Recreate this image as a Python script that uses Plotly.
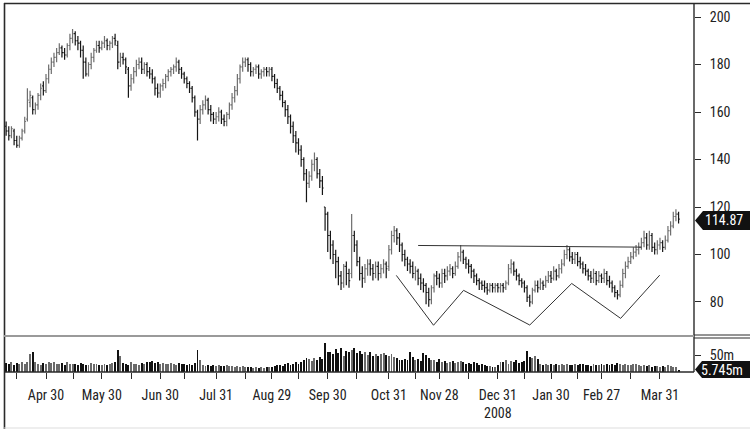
import plotly.graph_objects as go

# ---------------- data ----------------
opens = [
    154,152,150,152,148,146,149,152,157,164,
    166,161,163,167,171,169,174,178,181,183,
    185,187,185,184,188,191,193,190,189,186,
    181,176,180,183,186,188,187,189,190,188,
    189,191,188,181,183,182,178,171,174,177,
    180,181,178,180,177,176,174,170,168,171,
    172,175,177,178,179,181,178,176,174,172,
    170,166,160,157,161,163,165,161,159,157,
    158,160,157,156,159,163,166,169,174,179,
    181,182,180,177,178,179,176,177,178,177,
    178,175,172,170,167,164,161,158,154,150,
    147,144,140,134,130,133,138,140,134,131,
    120,117,108,104,100,97,91,88,95,92,
    92,108,104,97,92,90,94,96,94,92,
    95,92,94,96,95,102,108,110,107,104,
    100,98,96,95,92,93,90,88,87,84,
    81,86,91,90,88,92,91,93,94,92,
    95,99,101,98,96,95,93,91,89,88,
    87,86,85,87,86,87,86,87,86,88,
    94,96,93,91,89,88,86,82,80,85,
    87,86,88,87,89,91,90,93,91,94,
    96,100,102,99,98,100,97,96,94,93,
    91,90,92,89,91,90,92,89,88,86,
    84,83,87,92,95,97,99,101,102,103,
    105,107,104,108,103,102,104,105,103,106,
    110,112,116,117,
]
highs = [
    156,154,154,153,150,150,153,158,170,169,
    167,164,168,172,173,176,180,183,185,187,
    189,188,187,189,193,195,194,192,190,188,
    183,181,185,187,190,190,190,192,191,190,
    192,193,190,185,185,183,179,176,179,182,
    183,183,181,181,179,178,175,172,172,174,
    176,178,179,180,183,182,179,177,175,173,
    171,167,161,163,165,167,166,163,160,160,
    162,161,159,160,164,168,171,176,180,183,
    183,183,181,179,180,180,178,179,179,179,
    179,176,174,171,169,165,163,159,156,152,
    149,146,141,136,135,140,143,141,136,133,
    120,118,110,106,102,99,93,96,97,94,
    117,110,106,99,95,96,98,98,96,97,
    97,96,98,97,104,110,112,111,109,105,
    102,99,98,97,95,94,92,90,88,86,
    87,92,93,92,94,94,95,96,95,97,
    101,104,102,99,98,96,94,92,90,89,
    89,88,88,88,88,88,88,88,89,96,
    98,97,94,92,90,89,87,83,86,89,
    89,90,89,91,93,93,95,94,96,98,
    102,104,103,101,101,101,99,97,96,94,
    93,94,93,93,92,94,93,91,89,87,
    85,89,94,97,99,101,103,104,105,107,
    110,109,110,109,105,106,107,106,108,112,
    114,118,119,118,
]
lows = [
    150,148,149,146,145,145,148,151,156,162,
    159,159,161,165,167,168,172,176,179,181,
    184,183,182,183,186,189,188,186,183,174,
    175,175,178,181,185,185,186,187,186,186,
    187,188,178,179,180,176,166,169,172,175,
    178,176,176,175,174,172,167,166,166,169,
    170,173,175,176,177,176,174,172,170,168,
    164,158,148,155,159,161,159,156,155,155,
    156,155,154,154,157,161,164,167,172,177,
    179,177,175,175,176,174,174,175,175,175,
    173,170,168,165,162,158,155,151,147,143,
    142,137,131,122,128,131,135,132,128,125,
    110,101,98,96,90,87,85,86,87,86,
    90,101,95,89,86,88,91,91,89,90,
    89,90,92,90,93,100,105,104,101,97,
    95,93,92,90,89,87,85,84,79,78,
    79,84,87,86,86,88,89,91,90,91,
    94,97,96,94,92,90,88,87,85,85,
    84,83,84,84,84,84,84,84,85,87,
    92,91,89,87,86,84,80,78,79,84,
    84,85,85,86,88,88,89,89,90,92,
    95,98,97,96,96,95,94,92,91,89,
    88,88,87,88,88,88,87,86,84,82,
    81,82,86,90,94,96,98,99,100,102,
    103,102,102,101,100,100,102,101,102,105,
    108,111,114,113,
]
closes = [
    152,150,153,148,146,149,152,156,165,167,
    161,163,167,170,169,174,178,181,183,185,
    187,185,184,188,191,193,190,189,186,181,
    176,180,183,186,188,187,189,190,188,189,
    191,190,181,183,182,179,171,174,177,180,
    181,178,180,177,176,174,170,168,171,172,
    175,177,178,179,181,178,176,174,172,170,
    166,160,157,161,163,165,161,159,157,158,
    160,157,156,159,163,166,169,174,179,181,
    182,180,177,178,179,176,177,178,177,178,
    175,172,170,167,164,161,158,154,150,147,
    144,140,134,130,133,138,140,134,131,128,
    117,108,104,100,97,91,88,95,92,89,
    108,104,97,92,90,94,96,94,92,95,
    92,94,96,94,102,108,110,107,104,100,
    98,96,95,92,93,90,88,87,84,81,
    86,91,90,88,92,91,93,94,92,95,
    99,101,98,96,95,93,91,89,88,87,
    86,85,87,86,87,86,87,86,88,94,
    96,93,91,89,88,86,82,80,85,87,
    86,88,87,89,91,90,93,91,94,96,
    100,102,99,98,100,97,96,94,93,91,
    90,92,89,91,90,92,89,88,86,84,
    83,87,92,95,97,99,101,102,103,105,
    107,104,108,103,102,104,105,103,106,110,
    112,116,117,114.87,
]
volumes_m = [
    27,24,28,22,26,25,30,24,28,52,
    58,30,25,22,27,24,30,26,28,25,
    24,26,22,28,24,23,25,21,27,24,
    20,22,26,23,25,21,22,24,20,23,
    26,30,64,48,27,24,22,28,25,23,
    21,26,24,30,28,32,26,29,24,27,
    25,23,26,24,22,26,23,25,21,24,
    22,27,64,35,22,19,21,18,20,17,
    22,19,18,20,17,19,16,18,15,17,
    14,16,15,13,15,12,14,13,15,14,
    16,18,20,22,19,24,26,21,25,28,
    24,30,35,42,38,33,40,36,44,38,
    85,58,60,52,68,55,72,48,62,58,
    66,70,55,63,52,60,50,58,46,54,
    48,52,56,50,48,52,45,40,36,34,
    38,34,60,45,36,38,32,55,50,40,
    35,34,30,38,28,32,27,30,33,26,
    29,31,28,25,27,24,28,26,22,25,
    20,18,17,16,15,22,30,28,34,25,
    32,29,35,27,30,33,62,45,40,48,
    38,25,22,24,20,23,21,25,22,24,
    20,23,21,22,24,20,23,25,21,22,
    19,24,22,20,23,21,25,22,24,20,
    26,23,21,24,22,20,23,25,21,19,
    22,18,20,16,19,17,15,18,16,20,
    17,15,14,5.745,
]
n = len(closes)
assert len(opens) == n and len(highs) == n and len(lows) == n and len(volumes_m) == n, (
    len(opens), len(highs), len(lows), len(closes), len(volumes_m))
day_index = list(range(n))

# trading-day index of labelled dates and of the intermediate ticks
label_ticks = [15, 36, 58, 79, 100, 121, 144, 163, 185, 205, 224, 246]
label_texts = ["Apr 30", "May 30", "Jun 30", "Jul 31", "Aug 29", "Sep 30",
               "Oct 31", "Nov 28", "Dec 31<br>2008", "Jan 30", "Feb 27", "Mar 31"]
minor_ticks = [4, 25.5, 47, 67, 90, 110, 132, 154, 174, 195, 215, 235]

price_ticks = [80, 100, 120, 140, 160, 180, 200]
last_price_label = "114.87"
last_volume_label = "5.745m"

# drawn trend lines (index, price)
neck_x = [155, 239]
neck_y = [103.8, 103.1]
w_x = [146.8, 160.8, 172.1, 197.0, 212.8, 231.2, 245.9]
w_y = [91.2, 70.2, 84.9, 70.3, 87.8, 73.1, 91.3]

# ---------------- figure ----------------
W, H = 750, 429
L, R, T, B = 4, 56, 3, 57
PL, PR, PT, PB = 4, 694, 3, 372


def xp(px):
    return (px - PL) / (PR - PL)


def yp(py):
    return (PB - py) / (PB - PT)


FONT = "Liberation Sans Narrow, Arial Narrow, Roboto Condensed, Arial, sans-serif"
DARK = "#2a2a2a"

fig = go.Figure()

fig.add_trace(go.Ohlc(
    x=day_index, open=opens, high=highs, low=lows, close=closes,
    xaxis="x2", yaxis="y",
    increasing=dict(line=dict(color="#6e6e6e", width=1.2)),
    decreasing=dict(line=dict(color="#151515", width=1.2)),
    tickwidth=0.45, hoverinfo="skip", showlegend=False,
))

fig.add_trace(go.Scatter(x=neck_x, y=neck_y, mode="lines", xaxis="x2", yaxis="y",
                         line=dict(color="#333333", width=1), hoverinfo="skip",
                         showlegend=False))
fig.add_trace(go.Scatter(x=w_x, y=w_y, mode="lines", xaxis="x2", yaxis="y",
                         line=dict(color="#333333", width=1), hoverinfo="skip",
                         showlegend=False))

vol_colors = ["#111111" if c < o else "#6a6a6a" for o, c in zip(opens, closes)]
fig.add_trace(go.Bar(x=day_index, y=volumes_m, xaxis="x", yaxis="y2",
                     marker=dict(color=vol_colors, line=dict(width=0)),
                     width=0.72, hoverinfo="skip", showlegend=False))

axis_common = dict(showgrid=False, zeroline=False, showline=False,
                   tickcolor=DARK, tickfont=dict(family=FONT, size=14, color="#222"))

fig.update_layout(
    width=W, height=H, autosize=False,
    margin=dict(l=L, r=R, t=T, b=B, pad=0),
    paper_bgcolor="white", plot_bgcolor="white",
    font=dict(family=FONT, size=14, color="#222"),
    bargap=0, showlegend=False, hovermode=False,
    xaxis=dict(domain=[0, 1], anchor="y2", range=[-0.8, 258.8],
               tickmode="array", tickvals=label_ticks + minor_ticks,
               ticktext=label_texts + [""] * len(minor_ticks),
               ticks="outside", ticklen=6, tickwidth=1,
               ticklabelstandoff=4,
               rangeslider=dict(visible=False), **axis_common),
    xaxis2=dict(domain=[0, 1], anchor="y", matches="x", range=[-0.8, 258.8],
                showticklabels=False, ticks="",
                rangeslider=dict(visible=False), showgrid=False, zeroline=False,
                showline=False),
    yaxis=dict(domain=[yp(335), 1], anchor="x2", side="right",
               range=[66.1, 205.9], tickmode="array", tickvals=price_ticks,
               ticks="outside", ticklen=6, tickwidth=1, ticklabelstandoff=6,
               **axis_common),
    yaxis2=dict(domain=[0, yp(338)], anchor="x", side="right",
                range=[0, 100], tickmode="array", tickvals=[50], ticktext=["50m"],
                ticks="outside", ticklen=6, tickwidth=1, ticklabelstandoff=6,
                **axis_common),
)

shapes = []


def line(x0, y0, x1, y1, color=DARK, width=1.0):
    shapes.append(dict(type="line", xref="paper", yref="paper",
                       x0=xp(x0), y0=yp(y0), x1=xp(x1), y1=yp(y1),
                       line=dict(color=color, width=width), layer="above"))


line(4.5, 3, 4.5, 429, DARK, 1.6)          # left frame
line(4, 3.5, 750, 3.5, DARK, 1.6)          # top frame
line(694, 3, 694, 372, DARK, 1.4)          # right axis
line(4, 372, 694, 372, DARK, 1.4)          # bottom of volume
line(4, 336, 694, 336, "#9a9a9a", 2)       # panel separator
line(694, 335, 750, 335, DARK, 1)
line(694, 338, 750, 338, DARK, 1)
line(4, 428, 750, 428, "#dddddd", 1)       # bottom frame


def tag(tip_x, tip_y, x_box, x_end, y_top, y_bot):
    pts = [(tip_x, tip_y), (x_box, y_top), (x_end, y_top), (x_end, y_bot), (x_box, y_bot)]
    path = "M " + " L ".join(f"{xp(a):.5f},{yp(b):.5f}" for a, b in pts) + " Z"
    shapes.append(dict(type="path", xref="paper", yref="paper", path=path,
                       fillcolor="#111111", line=dict(color="#111111", width=0),
                       layer="above"))


tag(695, 220.5, 703, 750, 211, 230)
tag(695, 369.5, 702, 750, 361, 378)

fig.update_layout(shapes=shapes)

fig.add_annotation(x=xp(724), y=yp(220.5), xref="paper", yref="paper",
                   xanchor="center", yanchor="middle",
                   text=last_price_label, showarrow=False,
                   font=dict(family=FONT, size=14, color="white"))
fig.add_annotation(x=xp(722), y=yp(369.5), xref="paper", yref="paper",
                   xanchor="center", yanchor="middle",
                   text=last_volume_label, showarrow=False,
                   font=dict(family=FONT, size=14, color="white"))

fig.write_html("out.html", config=dict(displayModeBar=False, staticPlot=True),
               post_script="document.body.style.margin='0';document.body.style.overflow='hidden';")
